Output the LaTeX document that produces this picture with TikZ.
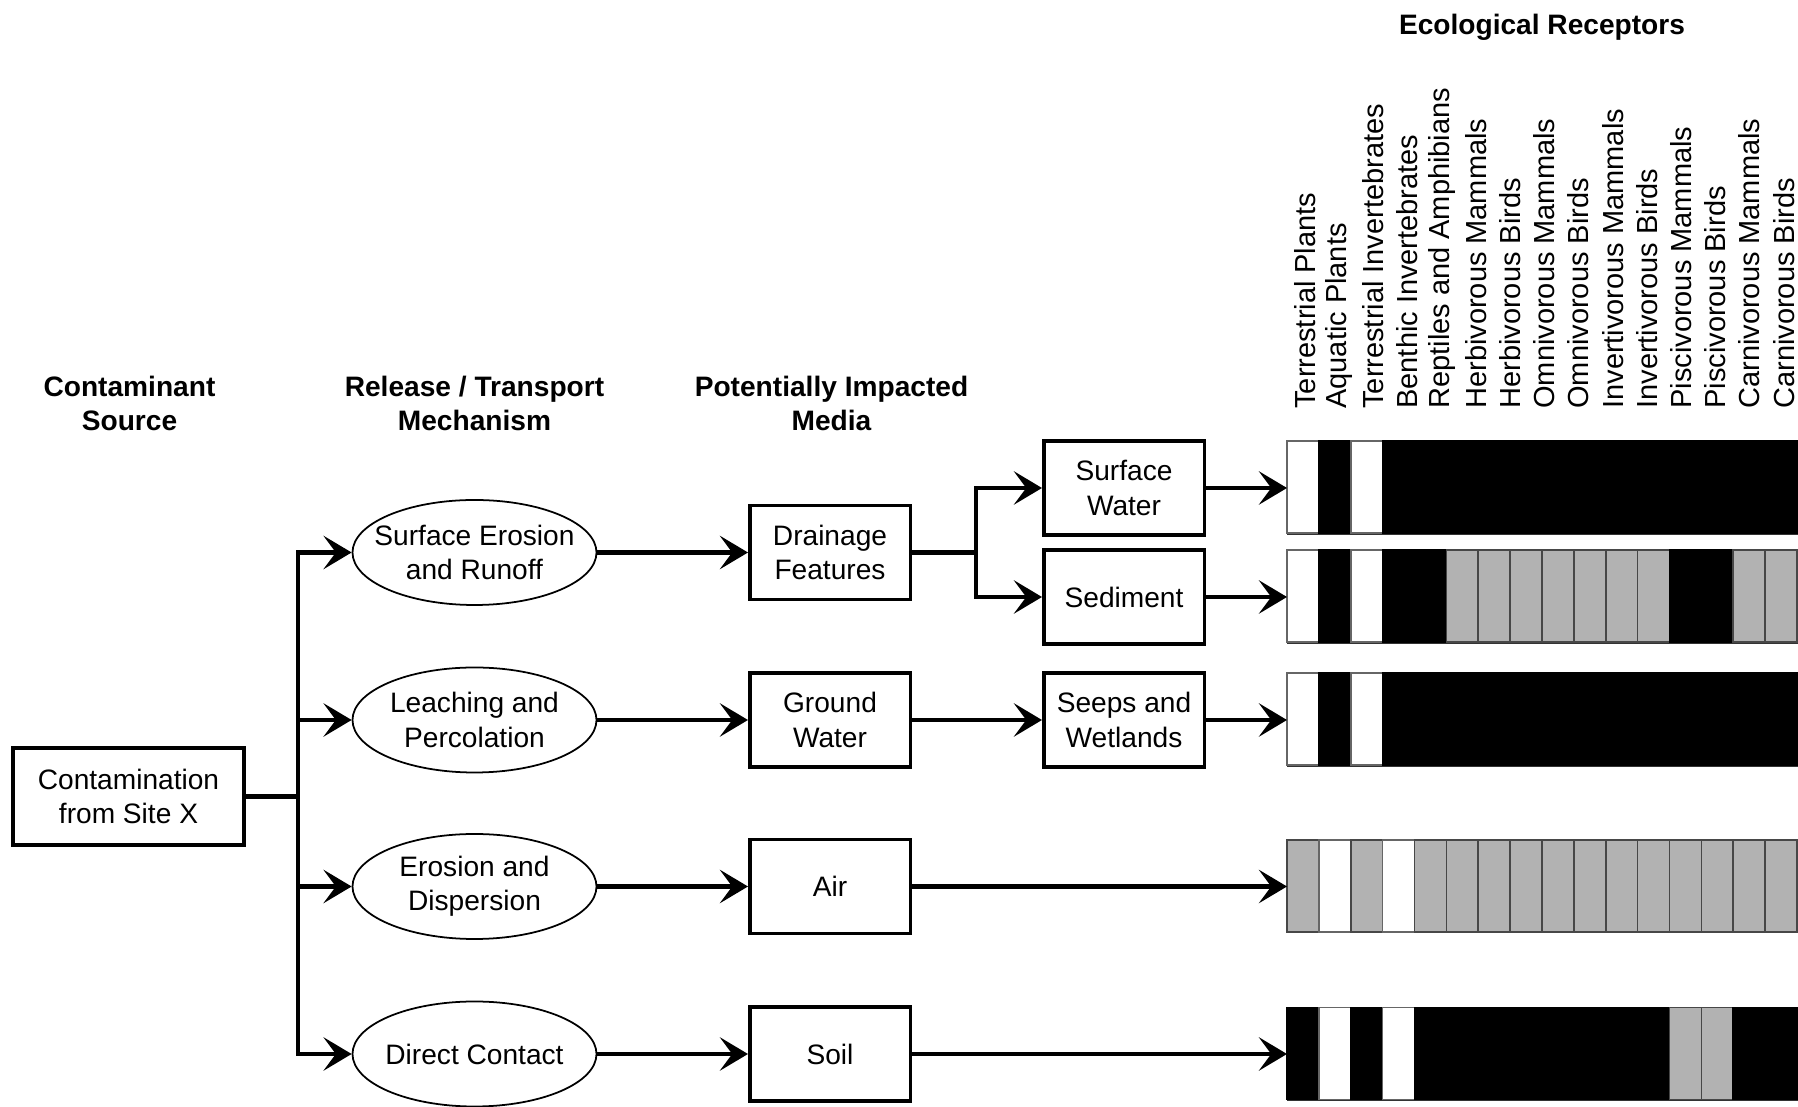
\documentclass[tikz,border=0pt]{standalone}
\usepackage{fontspec}
\setmainfont{Liberation Sans}
\usetikzlibrary{arrows.meta,positioning,shapes.geometric,calc}
\colorlet{cmp}{black}
\colorlet{pot}{black!30}
\colorlet{non}{white}
% one row of receptor cells inside a bar node
\newcommand{\recrow}[2]{%
  \foreach \cc [count=\i from 0] in {#2}
    \draw[cell,fill=\cc,draw=\cc!40!black] ($(#1.north west)+(\i*0.6375,0)$)
      rectangle ++(0.6375,-1.84);
}

\begin{document}
\begin{tikzpicture}[
  every node/.style={font=\fontsize{16}{19.5}\selectfont},
  hdr/.style={font=\fontsize{16}{19.5}\selectfont\bfseries,align=center},
  box/.style={draw,line width=2pt,align=center,minimum width=3.21cm,
              minimum height=1.88cm,inner sep=2pt},
  proc/.style={ellipse,draw,line width=1pt,align=center,minimum width=4.88cm,
               minimum height=2.1cm,inner xsep=-0.3cm,inner ysep=0pt},
  rbar/.style={draw=black!80,line width=0.8pt,anchor=west,minimum width=10.2cm,
               minimum height=1.84cm,inner sep=0pt},
  cell/.style={line width=0.9pt},
  rlab/.style={rotate=90,anchor=west,inner sep=0pt,
               font=\fontsize{16.5}{19.5}\selectfont},
  wire/.style={line width=2.6pt,line cap=rect},
  flow/.style={line width=2.6pt,-{Stealth[length=16pt,width=19pt,inset=7pt]}},
]
  \useasboundingbox (0,0) rectangle (35.96,22.14);

  % Column headers
  \node[hdr] (hsrc) at (2.59,14.07) {Contaminant\\Source};
  \node[hdr] (hmech) at (9.49,14.07) {Release / Transport\\Mechanism};
  \node[hdr] (hmed) at (16.63,14.07) {Potentially Impacted\\Media};
  \node[hdr] (hrec) at (30.84,21.59) {Ecological Receptors};

  % Receptor labels
  \foreach \lab [count=\i from 0] in {Terrestrial Plants,Aquatic Plants,
      Terrestrial Invertebrates,Benthic Invertebrates,Reptiles and Amphibians,
      Herbivorous Mammals,Herbivorous Birds,Omnivorous Mammals,Omnivorous Birds,
      Invertivorous Mammals,Invertivorous Birds,Piscivorous Mammals,
      Piscivorous Birds,Carnivorous Mammals,Carnivorous Birds}
    \node[rlab] (lab\i) at (26.1+0.684*\i,13.96) {\lab};

  % Source
  \node[box,minimum width=4.63cm,minimum height=1.95cm] (src) at (2.57,6.21)
    {Contamination\\from Site X};

  % Release / transport mechanisms
  \node[proc] (ero) at (9.49,11.09) {Surface Erosion\\and Runoff};
  \node[proc] (lea) at (9.49,7.74) {Leaching and\\Percolation};
  \node[proc] (dis) at (9.49,4.41) {Erosion and\\Dispersion};
  \node[proc] (dir) at (9.49,1.06) {Direct Contact};

  % Media
  \node[box] (drain) at (16.6,11.09) {Drainage\\Features};
  \node[box] (gw) at (16.6,7.74) {Ground\\Water};
  \node[box] (air) at (16.6,4.41) {Air};
  \node[box] (soil) at (16.6,1.06) {Soil};
  \node[box] (sw) at (22.48,12.38) {Surface\\Water};
  \node[box] (sed) at (22.48,10.2) {Sediment};
  \node[box] (seep) at (22.48,7.74) {Seeps and\\Wetlands};

  % Receptor bars
  \node[rbar] (bsw) at (25.74,12.38) {};
  \node[rbar] (bsed) at (25.74,10.2) {};
  \node[rbar] (bseep) at (25.74,7.74) {};
  \node[rbar] (bair) at (25.74,4.41) {};
  \node[rbar] (bsoil) at (25.74,1.06) {};
  \recrow{bsw}{non,cmp,non,cmp,cmp,cmp,cmp,cmp,cmp,cmp,cmp,cmp,cmp,cmp,cmp,cmp}
  \recrow{bsed}{non,cmp,non,cmp,cmp,pot,pot,pot,pot,pot,pot,pot,cmp,cmp,pot,pot}
  \recrow{bseep}{non,cmp,non,cmp,cmp,cmp,cmp,cmp,cmp,cmp,cmp,cmp,cmp,cmp,cmp,cmp}
  \recrow{bair}{pot,non,pot,non,pot,pot,pot,pot,pot,pot,pot,pot,pot,pot,pot,pot}
  \recrow{bsoil}{cmp,non,cmp,non,cmp,cmp,cmp,cmp,cmp,cmp,cmp,cmp,pot,pot,cmp,cmp}

  % Connectors
  \coordinate (jn) at (5.96,0);
  \coordinate (split) at (19.52,0);
  \draw[wire] (src.east) -- (src.east -| jn);
  \draw[wire] (jn |- ero) -- (jn |- dir);
  \foreach \e in {ero,lea,dis,dir}
    \draw[flow] (jn |- \e) -- (\e.west);
  \draw[flow] (ero.east) -- (drain.west);
  \draw[flow] (lea.east) -- (gw.west);
  \draw[flow] (dis.east) -- (air.west);
  \draw[flow] (dir.east) -- (soil.west);
  \draw[wire] (drain.east) -- (drain.east -| split);
  \draw[wire] (split |- sw) -- (split |- sed);
  \draw[flow] (split |- sw) -- (sw.west);
  \draw[flow] (split |- sed) -- (sed.west);
  \draw[flow] (gw.east) -- (seep.west);
  \draw[flow] (sw.east) -- (bsw.west);
  \draw[flow] (sed.east) -- (bsed.west);
  \draw[flow] (seep.east) -- (bseep.west);
  \draw[flow] (air.east) -- (bair.west);
  \draw[flow] (soil.east) -- (bsoil.west);
\end{tikzpicture}
\end{document}
